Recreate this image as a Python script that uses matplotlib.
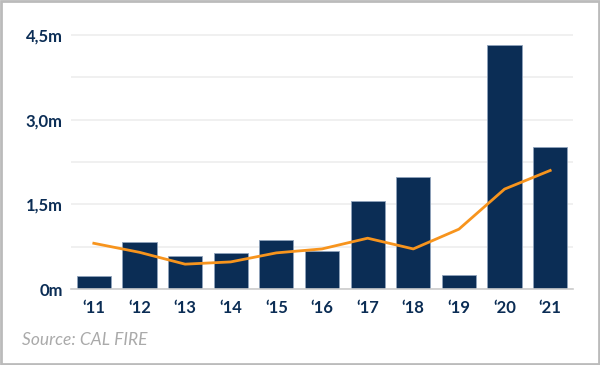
import matplotlib
matplotlib.use("Agg")
from matplotlib import pyplot as plt
from matplotlib.patches import Rectangle
import numpy as np

years = ["\u201811", "\u201812", "\u201813", "\u201814", "\u201815", "\u201816",
         "\u201817", "\u201818", "\u201819", "\u201820", "\u201821"]
acres = [0.23, 0.83, 0.58, 0.64, 0.87, 0.67, 1.56, 1.98, 0.25, 4.32, 2.51]
trend = [0.81, 0.65, 0.44, 0.48, 0.64, 0.71, 0.90, 0.71, 1.06, 1.77, 2.10]
yticks = [0, 1.5, 3.0, 4.5]
ytick_labels = ["0m", "1,5m", "3,0m", "4,5m"]

NAVY = "#0b2d55"
ORANGE = "#f7941d"

plt.rcParams["font.family"] = ["Lato", "DejaVu Sans"]

fig = plt.figure(figsize=(6.0, 3.65), dpi=100)
ax = fig.add_axes([71 / 600, 1 - 289 / 365, 502 / 600, (289 - 30) / 365])

x = np.arange(len(years))
ax.bar(x, acres, width=0.75, color=NAVY, edgecolor="#8fa3bb", linewidth=0.6, zorder=2)
ax.plot(x, trend, color=ORANGE, linewidth=2, zorder=3)

ax.set_xlim(-0.5, len(years) - 0.5)
ax.set_ylim(0, 4.5 * (289 - 30) / (289 - 35))

ax.set_yticks(yticks)
ax.set_yticklabels(ytick_labels)
ax.set_yticks([0.75, 2.25, 3.75], minor=True)
ax.set_xticks(x)
ax.set_xticklabels(years)

ax.grid(axis="y", which="both", color="#eeeeee", linewidth=1.2, zorder=0)
ax.set_axisbelow(True)
for side in ["top", "right", "left"]:
    ax.spines[side].set_visible(False)
ax.spines["bottom"].set_color("#cccccc")
ax.spines["bottom"].set_linewidth(1.2)
ax.tick_params(axis="both", which="both", length=0, labelcolor=NAVY, labelsize=12)
ax.tick_params(axis="y", pad=6)
ax.tick_params(axis="x", pad=8)
for lab in ax.get_xticklabels() + ax.get_yticklabels():
    lab.set_fontweight("bold")

fig.text(22 / 600, 1 - 340 / 365, "Source: CAL FIRE", fontsize=12.5,
         style="italic", color="#aaaaaa", va="center", ha="left")

fig.patches.append(Rectangle((0.002, 0.003), 0.996, 0.994, transform=fig.transFigure,
                             fill=False, edgecolor="#bbbbbb", linewidth=2))

fig.savefig("out.png", dpi=100)
